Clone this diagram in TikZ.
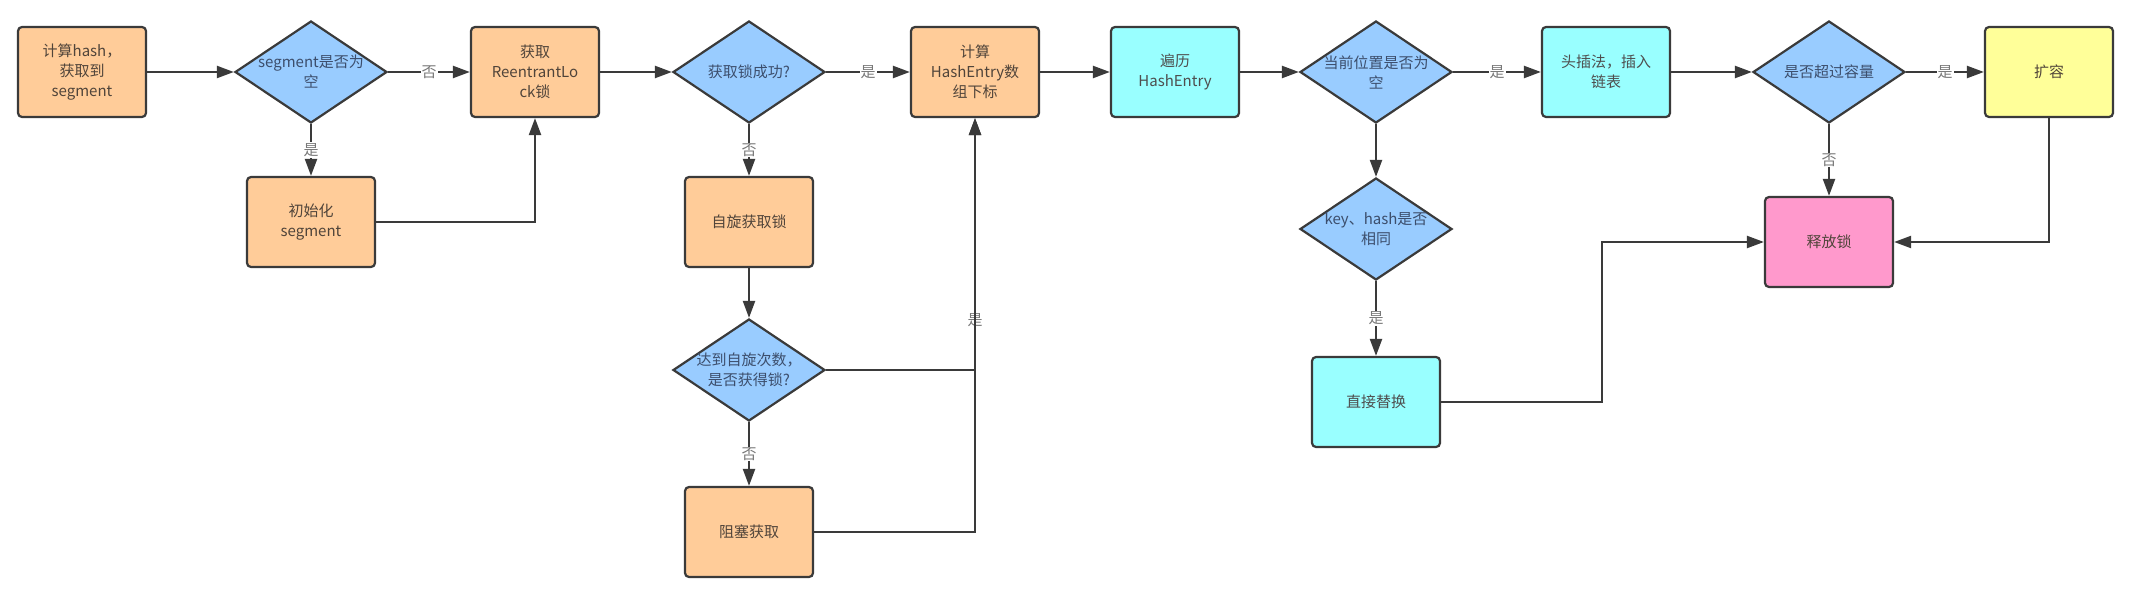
\documentclass[tikz,border=0pt]{standalone}
\usepackage{fontspec}
\setmainfont{Noto Sans CJK SC}
\usepackage{tikz}
\usetikzlibrary{arrows.meta,shapes.geometric}
\definecolor{edge}{RGB}{58,58,58}
\definecolor{peach}{RGB}{255,204,153}
\definecolor{sky}{RGB}{153,204,255}
\definecolor{aqua}{RGB}{153,255,255}
\definecolor{lemon}{RGB}{255,255,153}
\definecolor{rose}{RGB}{255,153,204}
\definecolor{boxtext}{RGB}{80,68,58}
\definecolor{dectext}{RGB}{60,78,108}
\definecolor{lbltext}{RGB}{120,120,120}
\tikzset{
  box/.style={draw=edge,line width=2.2pt,rounded corners=4pt,fill=peach,align=center,
    minimum width=128pt,minimum height=90pt,inner sep=2pt,text=boxtext,
    font=\fontsize{15}{20}\selectfont},
  cool/.style={box,fill=aqua,text=edge!90},
  warm/.style={box,fill=lemon},
  pinkbox/.style={box,fill=rose},
  dec/.style={diamond,draw=edge,line width=2.2pt,fill=sky,minimum width=152pt,minimum height=102pt,inner sep=0pt},
  dtxt/.style={align=center,text=dectext,font=\fontsize{15}{20}\selectfont},
  arr/.style={-{Triangle[length=17pt,width=12pt]},draw=edge,line width=2.2pt},
  lbl/.style={fill=white,text=lbltext,inner sep=1pt,font=\fontsize{15}{18}\selectfont},
}
\begin{document}
\begin{tikzpicture}[x=1pt,y=-1pt]
  \useasboundingbox (0,0) rectangle (2130,596);
  % top row
  \node[box] (hash) at (82,72) {计算hash，\\获取到\\segment};
  \node[dec,label={[dtxt]center:{segment是否为\\空}}] (segnull) at (311,72) {};
  \node[box] (lock) at (535,72) {获取\\ReentrantLo\\ck锁};
  \node[dec,label={[dtxt]center:{获取锁成功?}}] (lockok) at (749,72) {};
  \node[box] (idx) at (975,72) {计算\\HashEntry数\\组下标};
  \node[cool] (walk) at (1175,72) {遍历\\HashEntry};
  \node[dec,label={[dtxt]center:{当前位置是否为\\空}}] (slot) at (1376,72) {};
  \node[cool] (head) at (1606,72) {头插法，插入\\链表};
  \node[dec,label={[dtxt]center:{是否超过容量}}] (cap) at (1829,72) {};
  \node[warm] (grow) at (2049,72) {扩容};
  % lower nodes
  \node[box] (init) at (311,222) {初始化\\segment};
  \node[box] (spin) at (749,222) {自旋获取锁};
  \node[dec,label={[dtxt]center:{达到自旋次数，\\是否获得锁?}}] (spinok) at (749,370) {};
  \node[box] (block) at (749,532) {阻塞获取};
  \node[dec,label={[dtxt]center:{key、hash是否\\相同}}] (same) at (1376,229) {};
  \node[cool] (swap) at (1376,402) {直接替换};
  \node[pinkbox] (unlock) at (1829,242) {释放锁};
  \coordinate (bend) at (1602,320);
  % connectors
  \draw[arr] (hash) -- (segnull);
  \draw[arr] (segnull) -- node[lbl] {否} (lock);
  \draw[arr] (segnull) -- node[lbl] {是} (init);
  \draw[arr] (init) -| (lock);
  \draw[arr] (lock) -- (lockok);
  \draw[arr] (lockok) -- node[lbl] {是} (idx);
  \draw[arr] (lockok) -- node[lbl] {否} (spin);
  \draw[arr] (spin) -- (spinok);
  \draw[arr] (spinok) -- node[lbl] {否} (block);
  \draw[arr] (spinok) -| node[lbl,pos=0.6] {是} (idx);
  \draw[arr] (block) -| (idx);
  \draw[arr] (idx) -- (walk);
  \draw[arr] (walk) -- (slot);
  \draw[arr] (slot) -- node[lbl] {是} (head);
  \draw[arr] (slot) -- (same);
  \draw[arr] (same) -- node[lbl] {是} (swap);
  \draw[arr] (head) -- (cap);
  \draw[arr] (cap) -- node[lbl] {是} (grow);
  \draw[arr] (cap) -- node[lbl] {否} (unlock);
  \draw[arr] (grow) |- (unlock);
  \draw[arr] (swap) -| (bend) |- (unlock);
\end{tikzpicture}
\end{document}
